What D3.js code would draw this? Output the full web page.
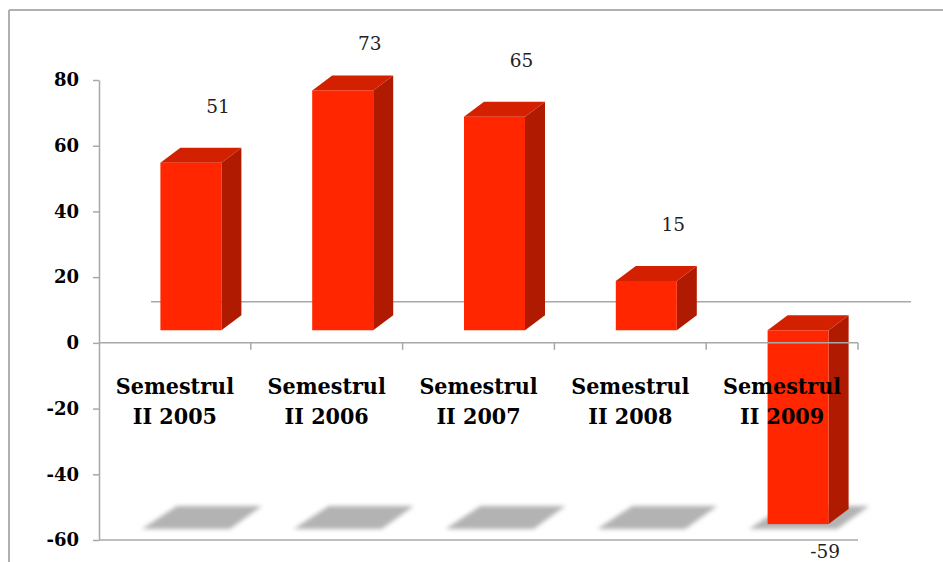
<!DOCTYPE html>
<html>
<head>
<meta charset="utf-8">
<script src="https://cdn.jsdelivr.net/npm/d3@7"></script>
<style>
  html, body { margin: 0; padding: 0; background: #fff; }
  svg { display: block; }
</style>
</head>
<body>
<script>
// ---- data ----
const categories = ["Semestrul II 2005", "Semestrul II 2006", "Semestrul II 2007", "Semestrul II 2008", "Semestrul II 2009"];
const values = [51, 73, 65, 15, -59];
const yTicks = [-60, -40, -20, 0, 20, 40, 60, 80];

// ---- layout ----
const W = 943, H = 562;
const svg = d3.select("body").append("svg").attr("width", W).attr("height", H);

const defs = svg.append("defs");
defs.append("filter").attr("id", "blur").attr("x", "-20%").attr("y", "-50%").attr("width", "140%").attr("height", "200%")
  .append("feGaussianBlur").attr("stdDeviation", 2.2);

const x = d3.scaleBand().domain(categories).range([99, 858]).padding(0);
const y = d3.scaleLinear().domain([-60, 80]).range([540, 80]);

const axisColor = "#a8a8a8";
const barW = 61, dx = 20, dy = -15;        // bar width and 3D depth offset
const bshiftX = 16, bshiftY = -12.6;       // bars sit mid-depth
const wallDX = 52, wallDY = -41;           // back wall offset

// outer frame
svg.append("line").attr("x1", 9).attr("x2", W).attr("y1", 10).attr("y2", 10)
  .attr("stroke", "#b0b0b0").attr("stroke-width", 2);
svg.append("line").attr("x1", 9).attr("x2", 9).attr("y1", 10).attr("y2", H)
  .attr("stroke", "#b0b0b0").attr("stroke-width", 2);

// back zero line
svg.append("line")
  .attr("x1", x.range()[0] + wallDX).attr("x2", x.range()[1] + wallDX + 1)
  .attr("y1", y(0) + wallDY).attr("y2", y(0) + wallDY)
  .attr("stroke", axisColor).attr("stroke-width", 1.5);

// shadows on floor
const floorY = y(-60);
svg.append("g").selectAll("polygon").data(categories).join("polygon")
  .attr("points", d => {
    const c = x(d) + x.bandwidth() / 2;
    const yb = floorY - 11, yt = floorY - 34;
    return [[c - 33, yb], [c + 55, yb], [c + 87, yt], [c + 2, yt]].map(p => p.join(",")).join(" ");
  })
  .attr("fill", "#b3b3b3").attr("filter", "url(#blur)");

// bars
const front = "#ff2600", topC = "#d22000", side = "#b01a00";
const bars = svg.append("g").selectAll("g").data(values).join("g");
function geom(v, i) {
  const bx = x(categories[i]) + x.bandwidth() / 2 + bshiftX - barW / 2;
  const top = y(Math.max(v, 0)) + bshiftY;
  const bot = y(Math.min(v, 0)) + bshiftY;
  return { bx, top, bot };
}
bars.append("polygon")
  .attr("points", (v, i) => {
    const g = geom(v, i);
    return [[g.bx + barW, g.top], [g.bx + barW + dx, g.top + dy], [g.bx + barW + dx, g.bot + dy], [g.bx + barW, g.bot]].map(p => p.join(",")).join(" ");
  }).attr("fill", side);
bars.append("polygon")
  .attr("points", (v, i) => {
    const g = geom(v, i);
    return [[g.bx, g.top], [g.bx + dx, g.top + dy], [g.bx + barW + dx, g.top + dy], [g.bx + barW, g.top]].map(p => p.join(",")).join(" ");
  }).attr("fill", topC);
bars.append("rect")
  .attr("x", (v, i) => geom(v, i).bx)
  .attr("y", (v, i) => geom(v, i).top)
  .attr("width", barW)
  .attr("height", (v, i) => geom(v, i).bot - geom(v, i).top)
  .attr("fill", front);

// y axis
const yAxis = svg.append("g").attr("transform", `translate(${x.range()[0]},0)`)
  .call(d3.axisLeft(y).tickValues(yTicks).tickFormat(d => String(d)).tickSize(6).tickPadding(14).tickSizeOuter(0));
yAxis.select(".domain").attr("stroke", axisColor).attr("stroke-width", 1.5);
yAxis.selectAll(".tick line").attr("stroke", axisColor).attr("stroke-width", 1.5);
yAxis.selectAll(".tick text")
  .attr("font-family", "'DejaVu Serif', serif").attr("font-weight", "bold")
  .attr("font-size", "18px").attr("fill", "#000");

// x axis at zero
svg.append("line").attr("x1", x.range()[0]).attr("x2", x.range()[1])
  .attr("y1", y(0)).attr("y2", y(0)).attr("stroke", axisColor).attr("stroke-width", 1.5);
svg.append("g").selectAll("line").data(categories).join("line")
  .attr("x1", d => x(d) + x.bandwidth()).attr("x2", d => x(d) + x.bandwidth())
  .attr("y1", y(0)).attr("y2", y(0) + 7)
  .attr("stroke", axisColor).attr("stroke-width", 1.5);

// bottom line
svg.append("line").attr("x1", x.range()[0]).attr("x2", x.range()[1])
  .attr("y1", y(-60)).attr("y2", y(-60)).attr("stroke", axisColor).attr("stroke-width", 1.5);

// category labels
const catG = svg.append("g").selectAll("text").data(categories).join("text")
  .attr("text-anchor", "middle")
  .attr("font-family", "'DejaVu Serif', serif").attr("font-weight", "bold")
  .attr("font-stretch", "condensed")
  .attr("font-size", "23px").attr("fill", "#000");
catG.each(function(d) {
  const c = x(d) + x.bandwidth() / 2;
  const idx = d.indexOf(" ");
  const lines = [d.slice(0, idx), d.slice(idx + 1)];
  d3.select(this).selectAll("tspan").data(lines).join("tspan")
    .attr("x", c).attr("y", (l, j) => y(0) + 51 + j * 30).text(l => l);
});

// value labels
svg.append("g").selectAll("text").data(values).join("text")
  .attr("text-anchor", "middle")
  .attr("font-family", "'DejaVu Serif', serif")
  .attr("font-size", "18.5px").attr("fill", "#222")
  .attr("x", (v, i) => geom(v, i).bx + barW / 2 + 27)
  .attr("y", (v, i) => v >= 0 ? Math.max(geom(v, i).top - 50, 50) : Math.min(geom(v, i).bot + 34, H - 3))
  .text(v => v);
</script>
</body>
</html>
